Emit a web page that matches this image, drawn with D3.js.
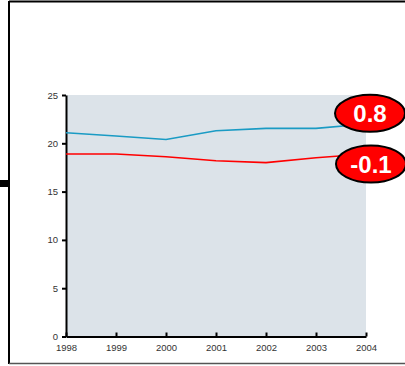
<!DOCTYPE html>
<html>
<head>
<meta charset="utf-8">
<script src="https://cdn.jsdelivr.net/npm/d3@7"></script>
<style>
  body { margin: 0; background: #fff; }
  svg { display: block; }
</style>
</head>
<body>
<script>
var years = [1998, 1999, 2000, 2001, 2002, 2003, 2004];
var blueVals = [21.1, 20.75, 20.4, 21.3, 21.55, 21.55, 22.0];
var redVals = [18.9, 18.9, 18.6, 18.2, 18.0, 18.5, 18.9];
var yTicks = [0, 5, 10, 15, 20, 25];
var labels = [{ text: "0.8", value: 23.1 }, { text: "-0.1", value: 17.85 }];

var FONT = "Liberation Sans, Arial, sans-serif";

function main() {
    var svg = d3.select("body")
      .append("svg")
      .attr("width", 405)
      .attr("height", 366)
      .attr("font-family", FONT);

    // outer frame
    svg.append("line").attr("x1", 9).attr("x2", 405).attr("y1", 1.5).attr("y2", 1.5)
      .attr("stroke", "#000").attr("stroke-width", 2);
    svg.append("line").attr("x1", 9).attr("x2", 9).attr("y1", 1).attr("y2", 364)
      .attr("stroke", "#000").attr("stroke-width", 2);
    svg.append("line").attr("x1", 9).attr("x2", 405).attr("y1", 363.5).attr("y2", 363.5)
      .attr("stroke", "#555").attr("stroke-width", 1.5);
    svg.append("rect").attr("x", 0).attr("y", 180).attr("width", 9).attr("height", 7)
      .attr("fill", "#000");

    var x = d3.scaleLinear().domain([1998, 2004]).range([66, 366]);
    var y = d3.scaleLinear().domain([0, 25]).range([336.5, 95]);

    svg.append("rect")
      .attr("x", x(1998)).attr("y", y(25))
      .attr("width", x(2004) - x(1998)).attr("height", y(0) - y(25))
      .attr("fill", "#dce3e9");

    var yAxis = svg.append("g")
      .attr("transform", "translate(" + x(1998) + ",0)")
      .call(d3.axisLeft(y).tickValues(yTicks).tickSize(4).tickSizeOuter(0).tickPadding(4));
    yAxis.attr("font-family", FONT);
    yAxis.select(".domain").attr("stroke-width", 2);
    yAxis.selectAll(".tick line").attr("stroke-width", 2);
    yAxis.selectAll("text").attr("font-size", 9.5).attr("fill", "#333");

    var xAxis = svg.append("g")
      .attr("transform", "translate(0," + y(0) + ")")
      .call(d3.axisBottom(x).tickValues(years).tickFormat(d3.format("d")).tickSize(-4).tickSizeOuter(0).tickPadding(8));
    xAxis.attr("font-family", FONT);
    xAxis.select(".domain").attr("stroke-width", 2);
    xAxis.selectAll(".tick line").attr("stroke-width", 2);
    xAxis.selectAll("text").attr("font-size", 9.5).attr("fill", "#333");

    var line = d3.line()
      .x(function (d, i) { return x(years[i]); })
      .y(function (d) { return y(d); });

    svg.append("path").datum(blueVals).attr("d", line)
      .attr("fill", "none").attr("stroke", "#1a9bc4").attr("stroke-width", 1.6);
    svg.append("path").datum(redVals).attr("d", line)
      .attr("fill", "none").attr("stroke", "#ff0000").attr("stroke-width", 1.6);

    var lab = svg.selectAll("g.lab")
      .data(labels)
      .enter()
      .append("g")
      .attr("class", "lab")
      .attr("transform", function (d, i) { return "translate(" + (370 + i) + "," + y(d.value) + ")"; });
    lab.append("ellipse").attr("rx", 35).attr("ry", 18.5)
      .attr("fill", "#ff0000").attr("stroke", "#000").attr("stroke-width", 2);
    lab.append("text")
      .attr("text-anchor", "middle").attr("dy", "0.36em")
      .attr("font-size", 24).attr("font-weight", "bold").attr("fill", "#fff")
      .text(function (d) { return d.text; });
}
main();
</script>
</body>
</html>
